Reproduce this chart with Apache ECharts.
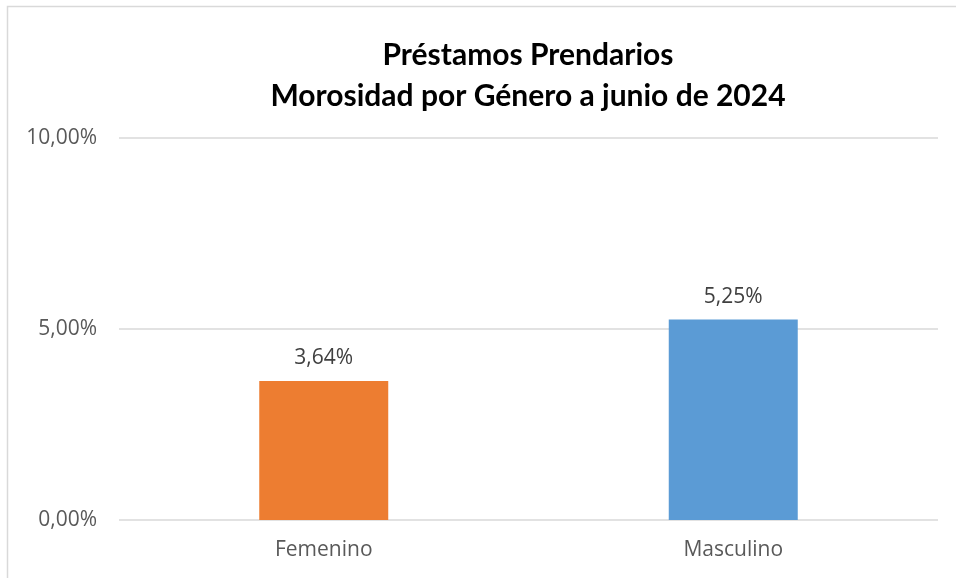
<!DOCTYPE html>
<html><head><meta charset="utf-8">
<script src="https://cdn.jsdelivr.net/npm/echarts@6/dist/echarts.min.js"></script>
<style>html,body{margin:0;padding:0;background:#fff}#c{width:956px;height:578px}</style>
</head><body><div id="c"></div>
<script>
const categories = ['Femenino', 'Masculino'];
const values = [3.64, 5.25];
const colors = ['#ED7D31', '#5B9BD5'];
const yTicks = [0, 5, 10];
const titleText = 'Préstamos Prendarios\nMorosidad por Género a junio de 2024';

const fmt = v => v.toFixed(2).replace('.', ',') + '%';
const chart = echarts.init(document.getElementById('c'), null, {renderer: 'canvas'});
chart.setOption({
  animation: false,
  backgroundColor: '#fff',
  graphic: [{type: 'rect', shape: {x: 7.5, y: 6.5, width: 1000, height: 1000}, style: {fill: 'none', stroke: '#d9d9d9', lineWidth: 1.5}, silent: true}],
  title: {text: titleText, left: 523, textAlign: 'center', top: 30,
    textStyle: {fontFamily: 'Lato', fontWeight: 'bold', fontSize: 30, color: '#000', lineHeight: 41}},
  grid: {left: 119, right: 18, top: 138, bottom: 58},
  xAxis: {type: 'category', data: categories,
    axisLine: {show: false}, axisTick: {show: false},
    axisLabel: {fontFamily: 'Open Sans', fontSize: 21, color: '#595959', margin: 20}},
  yAxis: {type: 'value', min: yTicks[0], max: yTicks[yTicks.length-1], interval: 5,
    axisLine: {show: false}, axisTick: {show: false},
    splitLine: {lineStyle: {color: '#d9d9d9', width: 1.5}},
    axisLabel: {fontFamily: 'Open Sans', fontSize: 21, color: '#595959', margin: 22, formatter: v => fmt(v)}},
  series: [{type: 'bar', barWidth: '31.5%',
    data: values.map((v, i) => ({value: v, itemStyle: {color: colors[i]}})),
    label: {show: true, position: 'top', distance: 12, fontFamily: 'Open Sans', fontSize: 21, color: '#404040', formatter: p => fmt(p.value)}}]
});
</script></body></html>
